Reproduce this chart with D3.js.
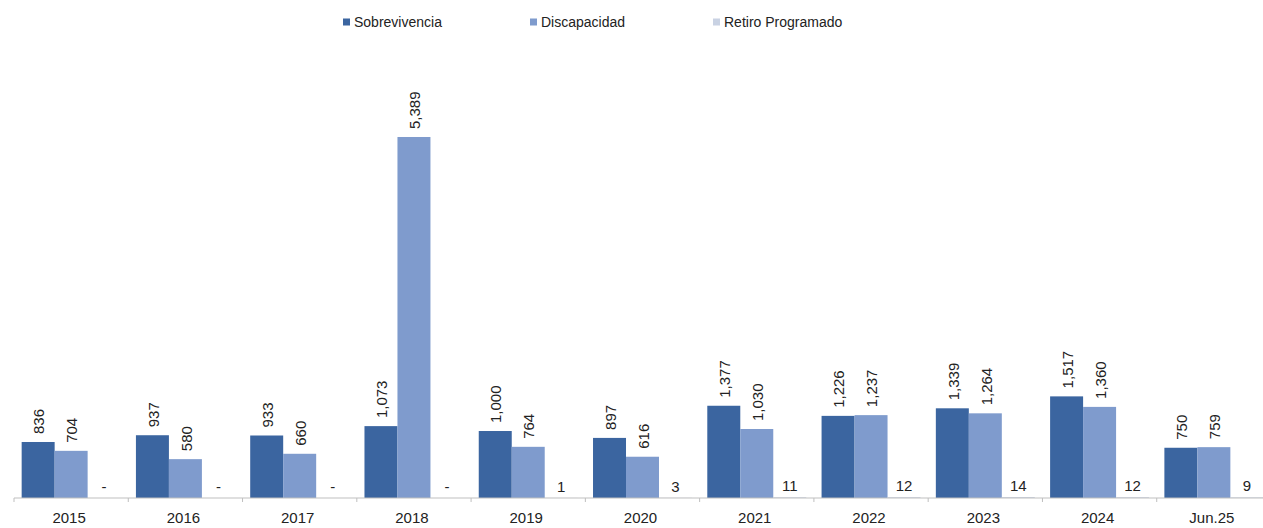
<!DOCTYPE html>
<html>
<head>
<meta charset="utf-8">
<script src="https://cdn.jsdelivr.net/npm/d3@7"></script>
<style>
  body { margin: 0; background: #fff; }
  svg { display: block; font-family: "Liberation Sans", Arial, sans-serif; }
</style>
</head>
<body>
<div id="chart"></div>
<script>
// data
var categories = ["2015", "2016", "2017", "2018", "2019", "2020", "2021", "2022", "2023", "2024", "Jun.25"];
var sobrevivencia = [836, 937, 933, 1073, 1000, 897, 1377, 1226, 1339, 1517, 750];
var discapacidad = [704, 580, 660, 5389, 764, 616, 1030, 1237, 1264, 1360, 759];
var retiro = [0, 0, 0, 0, 1, 3, 11, 12, 14, 12, 9];
var seriesNames = ["Sobrevivencia", "Discapacidad", "Retiro Programado"];
var colors = ["#3b65a0", "#7f9bcd", "#c9d2e3"];

var width = 1263, height = 528;
var svg = d3.select("#chart").append("svg").attr("width", width).attr("height", height);

var baseY = 498;

var x0 = d3.scaleBand()
    .domain(categories)
    .range([14, 1271])
    .paddingInner(0.134)
    .paddingOuter(0.067);

var x1 = d3.scaleBand()
    .domain([0, 1, 2])
    .range([0, x0.bandwidth()]);

var y = d3.scaleLinear()
    .domain([0, 6000])
    .range([baseY, baseY - 6000 * 0.06699]);

var rows = categories.map(function(c, i) {
    return {cat: c, vals: [sobrevivencia[i], discapacidad[i], retiro[i]]};
});

// bars
var groups = svg.selectAll("g.cat")
    .data(rows)
    .enter().append("g")
    .attr("class", "cat")
    .attr("transform", function(d) { return "translate(" + x0(d.cat) + ",0)"; });

groups.selectAll("rect")
    .data(function(d) { return d.vals.map(function(v, k) { return {k: k, v: v}; }); })
    .enter().append("rect")
    .attr("x", function(d) { return x1(d.k); })
    .attr("width", x1.bandwidth())
    .attr("y", function(d) { return y(d.v); })
    .attr("height", function(d) { return baseY - y(d.v); })
    .attr("fill", function(d) { return colors[d.k]; });

// rotated labels for first two series
groups.selectAll("text.rot")
    .data(function(d) { return d.vals.slice(0, 2).map(function(v, k) { return {k: k, v: v}; }); })
    .enter().append("text")
    .attr("class", "rot")
    .attr("transform", function(d) {
        return "translate(" + (x1(d.k) + x1.bandwidth() / 2 + 1) + "," + (y(d.v) - 8) + ") rotate(-90)";
    })
    .attr("dy", "0.35em")
    .attr("font-size", 15)
    .attr("fill", "#222")
    .text(function(d) { return d3.format(",")(d.v); });

// horizontal labels for retiro programado
groups.append("text")
    .attr("x", x1(2) + x1.bandwidth() / 2)
    .attr("y", function(d) { return y(d.vals[2]) - 6; })
    .attr("text-anchor", "middle")
    .attr("font-size", 15)
    .attr("fill", "#222")
    .text(function(d) { return d.vals[2] === 0 ? "-" : d3.format(",")(d.vals[2]); });

// x axis
var axis = svg.append("g").attr("transform", "translate(0," + baseY + ")");
axis.append("line")
    .attr("x1", 14).attr("x2", width)
    .attr("stroke", "#bfbfbf");

var half = x0.step() * x0.paddingInner() / 2;
axis.selectAll("line.tick")
    .data(categories)
    .enter().append("line")
    .attr("class", "tick")
    .attr("x1", function(d) { return x0(d) - half; })
    .attr("x2", function(d) { return x0(d) - half; })
    .attr("y1", 0).attr("y2", 4)
    .attr("stroke", "#bfbfbf");

axis.selectAll("text")
    .data(categories)
    .enter().append("text")
    .attr("x", function(d) { return x0(d) + x0.bandwidth() / 2 - 2; })
    .attr("y", 20)
    .attr("dy", "0.35em")
    .attr("text-anchor", "middle")
    .attr("font-size", 15)
    .attr("fill", "#222")
    .text(function(d) { return d; });

// legend
var legendX = [343, 530, 713];
var legend = svg.selectAll("g.legend")
    .data(seriesNames)
    .enter().append("g")
    .attr("class", "legend")
    .attr("transform", function(d, i) { return "translate(" + legendX[i] + ",22)"; });

legend.append("rect")
    .attr("x", 0).attr("y", -3.5)
    .attr("width", 7).attr("height", 7)
    .attr("fill", function(d, i) { return colors[i]; });

legend.append("text")
    .attr("x", 11)
    .attr("dy", "0.35em")
    .attr("font-size", 14)
    .attr("fill", "#222")
    .text(function(d) { return d; });
</script>
</body>
</html>
